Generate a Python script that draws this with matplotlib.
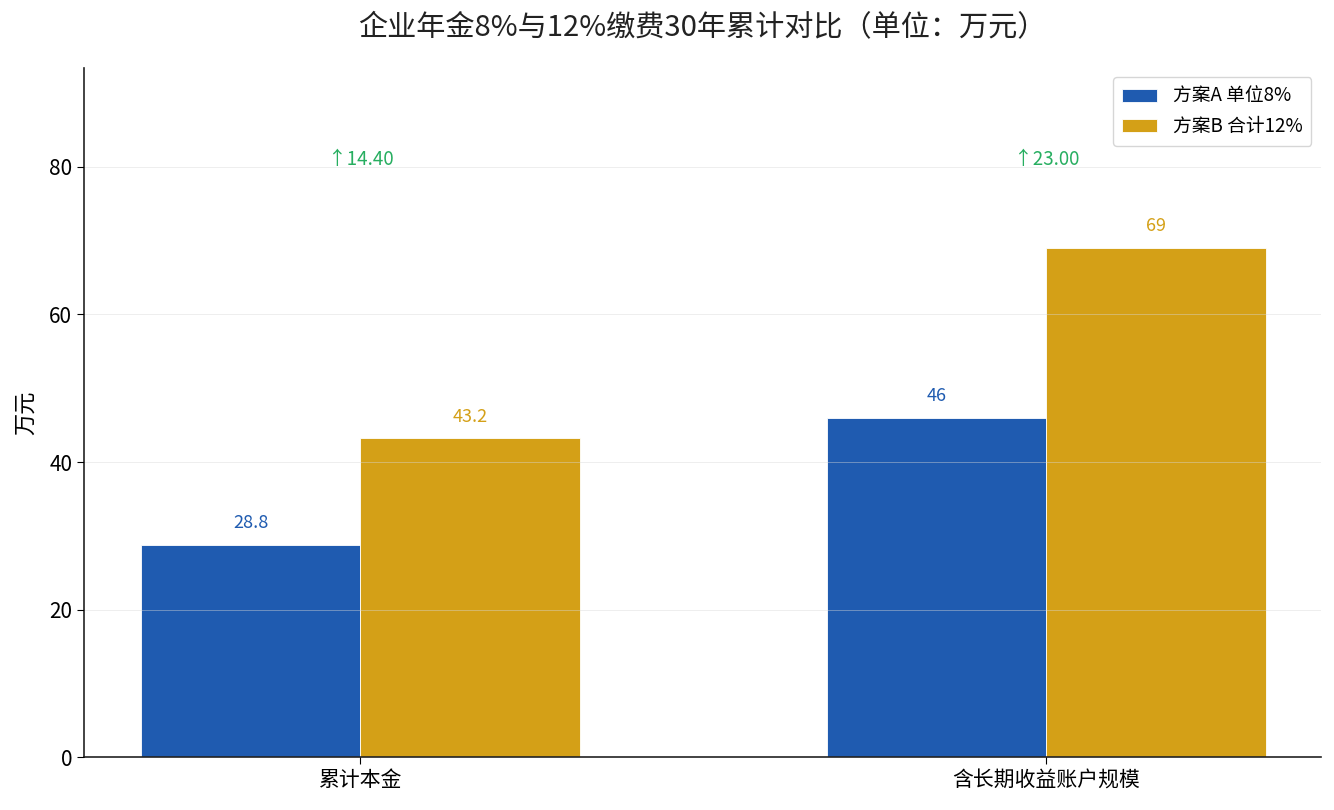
import matplotlib
matplotlib.use("Agg")
import matplotlib.pyplot as plt
import numpy as np

plt.rcParams['font.family'] = ['Noto Sans CJK SC', 'DejaVu Sans']
plt.rcParams['axes.unicode_minus'] = False

# data
categories = ["累计本金", "含长期收益账户规模"]
plan_a = [28.8, 46]
plan_b = [43.2, 69]
plan_a_label = "方案A 单位8%"
plan_b_label = "方案B 合计12%"
plan_a_text = ["28.8", "46"]
plan_b_text = ["43.2", "69"]

blue = "#1f5bb0"
gold = "#d4a017"
green = "#27ae60"

fig, ax = plt.subplots(figsize=(13.34, 8.1), dpi=100)
fig.subplots_adjust(left=0.063, right=0.99, top=0.916, bottom=0.065)

x = np.arange(len(categories))
w = 0.32
bars_a = ax.bar(x - w / 2, plan_a, w, color=blue, edgecolor="white", linewidth=0.6, label=plan_a_label)
bars_b = ax.bar(x + w / 2, plan_b, w, color=gold, edgecolor="white", linewidth=0.6, label=plan_b_label)

for b, t in zip(bars_a, plan_a_text):
    ax.annotate(t, (b.get_x() + b.get_width() / 2, b.get_height()), xytext=(0, 9),
                textcoords="offset points", ha="center", va="bottom", color=blue, fontsize=13)
for b, t in zip(bars_b, plan_b_text):
    ax.annotate(t, (b.get_x() + b.get_width() / 2, b.get_height()), xytext=(0, 9),
                textcoords="offset points", ha="center", va="bottom", color=gold, fontsize=13)

top = max(plan_b)
for i in range(len(categories)):
    diff = plan_b[i] - plan_a[i]
    ax.text(x[i], top * 1.152, f"↑{diff:.2f}", ha="center", va="bottom", color=green, fontsize=13.5)

ax.set_xlim(-0.403, 1.4)
ax.set_ylim(0, top * 1.353)
ax.set_xticks(x)
ax.set_xticklabels(categories, fontsize=15)
ax.tick_params(axis="y", labelsize=15)
ax.tick_params(length=5)
ax.set_yticks([0, 20, 40, 60, 80])
ax.set_ylabel("万元", fontsize=16, labelpad=9)
ax.set_title("企业年金8%与12%缴费30年累计对比（单位：万元）", fontsize=21, color="#222222", pad=23)

ax.yaxis.grid(True, color="#d8d8d8", linewidth=0.6, alpha=0.5)
ax.set_axisbelow(False)
for s in ["top", "right"]:
    ax.spines[s].set_visible(False)
for s in ["left", "bottom"]:
    ax.spines[s].set_color("#222222")
    ax.spines[s].set_linewidth(1.2)

ax.legend(loc="upper right", fontsize=13.5, frameon=True, edgecolor="#cccccc", borderpad=0.45,
          handlelength=1.9, handletextpad=0.85, labelspacing=0.5)

fig.savefig("out.png", dpi=100)
